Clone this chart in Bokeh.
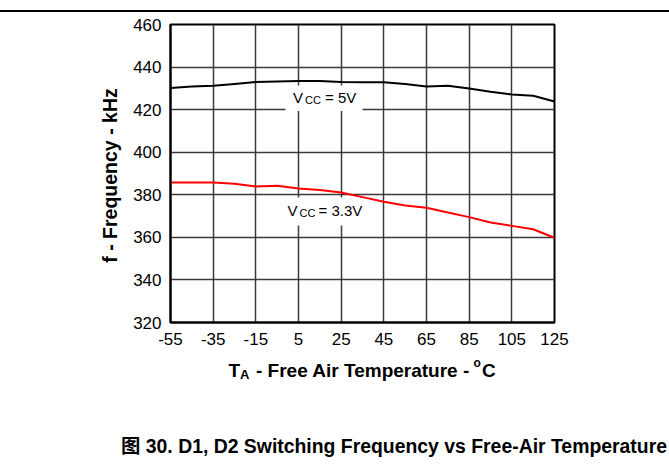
import math
from bokeh.plotting import figure
from bokeh.models import (Range1d, FixedTicker, Label, BoxAnnotation)
from bokeh.embed import file_html
from bokeh.resources import INLINE

# ---------------- data ----------------
temps = [-55, -45, -35, -25, -15, -5, 5, 15, 25, 35, 45, 55, 65, 75, 85, 95, 105, 115, 125]
freq_5v = [430.2, 430.9, 431.2, 432.1, 433.0, 433.2, 433.4, 433.4, 433.0, 432.9, 432.9,
           432.0, 430.9, 431.2, 429.9, 428.4, 427.1, 426.5, 423.8]
freq_3v3 = [385.8, 385.8, 385.8, 385.2, 383.9, 384.2, 383.0, 382.2, 381.1, 378.9, 376.7,
            375.0, 373.9, 371.7, 369.5, 367.0, 365.4, 363.8, 359.8]
x_ticks = [-55, -35, -15, 5, 25, 45, 65, 85, 105, 125]
y_ticks = [320, 340, 360, 380, 400, 420, 440, 460]
caption = "图 30. D1, D2 Switching Frequency vs Free-Air Temperature"

# ---------------- layout (canvas pixels) ----------------
X0, X1, Y0, Y1 = -55, 125, 320, 460
FL, FT, FW, FH = 170, 24, 384, 298        # frame position on canvas
W, H = 669, 465


def px2x(px):
    return X0 + (px - FL) * (X1 - X0) / FW


def py2y(py):
    return Y1 - (py - FT) * (Y1 - Y0) / FH


p = figure(width=W, height=H, output_backend="svg", toolbar_location=None,
           x_range=Range1d(X0, X1), y_range=Range1d(Y0, Y1),
           min_border_left=FL, min_border_top=FT,
           min_border_right=W - FL - FW, min_border_bottom=H - FT - FH)

p.outline_line_color = "black"
p.outline_line_width = 2
p.background_fill_color = "white"
p.border_fill_color = "white"

TICK_FONT = "Liberation Sans"
for ax in (p.xaxis[0], p.yaxis[0]):
    ax.axis_line_color = "black"
    ax.axis_line_width = 2
    ax.major_tick_in = 0
    ax.major_tick_out = 0
    ax.minor_tick_line_color = None
    ax.major_label_text_font = TICK_FONT
    ax.major_label_text_font_size = "17px"
    ax.major_label_text_color = "black"
p.xaxis.ticker = FixedTicker(ticks=x_ticks)
p.yaxis.ticker = FixedTicker(ticks=y_ticks)
p.xaxis.major_label_overrides = {t: str(t) for t in x_ticks}
p.xaxis.major_label_standoff = 10
p.yaxis.major_label_standoff = 9

p.xgrid.ticker = FixedTicker(ticks=x_ticks)
p.ygrid.ticker = FixedTicker(ticks=y_ticks)
for g in (p.xgrid[0], p.ygrid[0]):
    g.grid_line_color = "#3a3a3a"
    g.grid_line_width = 1.5
    g.grid_line_alpha = 1.0

# white boxes behind curve labels
p.add_layout(BoxAnnotation(left=px2x(285), right=px2x(362), top=py2y(85), bottom=py2y(110.5),
                           fill_color="white", fill_alpha=1, line_color=None, level="underlay"))
p.add_layout(BoxAnnotation(left=px2x(284), right=px2x(365), top=py2y(197), bottom=py2y(225),
                           fill_color="white", fill_alpha=1, line_color=None, level="underlay"))

p.line(temps, freq_5v, line_color="black", line_width=2)
p.line(temps, freq_3v3, line_color="#ff0000", line_width=2)


def lab(text, px, py, size, bold=False, align="left", baseline="alphabetic", angle=0.0,
        font="Liberation Sans", place=None, **kw):
    l = Label(x=px2x(px), y=py2y(py), text=text, text_font=font,
              text_font_size=f"{size}px", text_font_style="bold" if bold else "normal",
              text_align=align, text_baseline=baseline, angle=angle,
              text_color="black", **kw)
    if place is None:
        p.add_layout(l)
    else:
        p.add_layout(l, place)


# curve labels
lab("V", 292.5, 97, 15)
lab("CC", 304.5, 99.5, 11)
lab("= 5V", 324.5, 97, 15)
lab("V", 287, 210, 15)
lab("CC", 299, 212.5, 11)
lab("= 3.3V", 318, 210, 15)

# axis titles (in side panels so they are not clipped to the frame)
lab("f - Frequency - kHz", 109.5, 175, 19.5, bold=True, align="center", baseline="middle",
    angle=math.pi / 2, place="left")
lab("T", 228, 369.5, 19, bold=True, place="below")
lab("A", 239.5, 374, 13, bold=True, place="below")
lab("- Free Air Temperature -", 255.5, 369.5, 19, bold=True, place="below")
lab("o", 473, 362, 12, bold=True, place="below")
lab("C", 481.5, 369.5, 19, bold=True, place="below")

# caption
lab(caption, 393.5, 445, 19.4, bold=True, align="center",
    font="Liberation Sans, Noto Sans CJK SC", place="below")

# top rule of the page
lab(" ", W / 2, 10.5, 1.7, align="center", baseline="middle", place="above",
    background_fill_color="black", background_fill_alpha=1.0, padding=(W // 2 + 2, 0))

open("out.html", "w").write(file_html(p, INLINE))
